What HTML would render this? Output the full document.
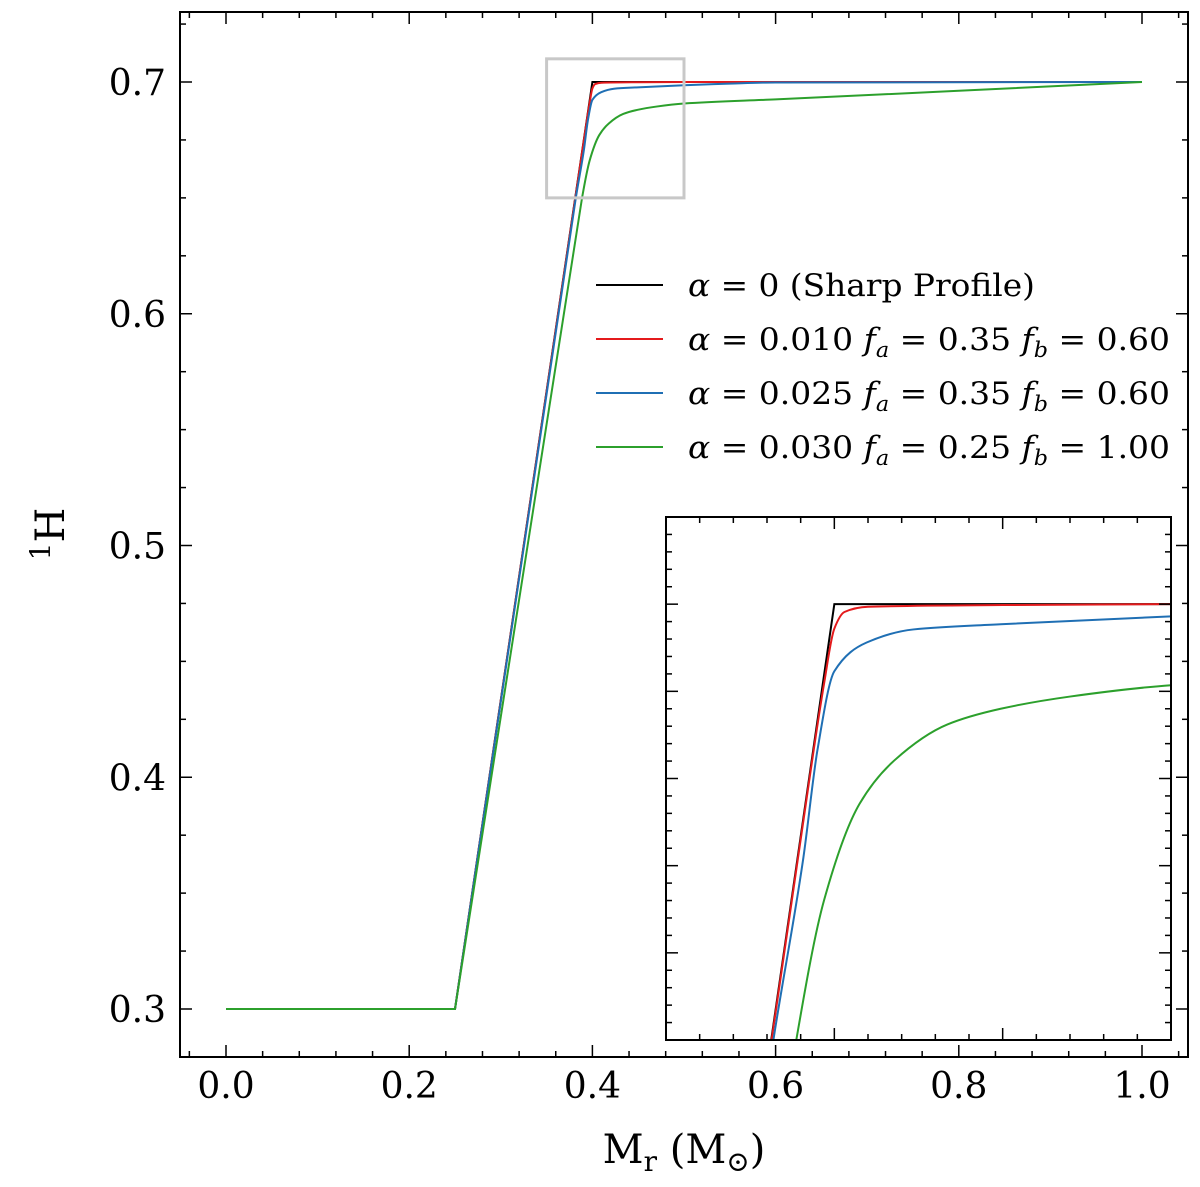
<!DOCTYPE html>
<html><head><meta charset="utf-8"><style>
html,body{margin:0;padding:0;background:#fff;overflow:hidden;width:1200px;height:1187px;}
svg{display:block;}
svg text{font-family:"DejaVu Serif","Liberation Serif",serif;}
</style></head><body>
<svg id="chart" xmlns="http://www.w3.org/2000/svg" width="1200" height="1187" viewBox="0 0 1200 1187">
<rect width="1200" height="1187" fill="#fff"/>
<g id="main"></g>
<g id="inset"></g>
<g id="legend"></g>
</svg>
<script>
// ---- data ----
const seriesNames = ["α = 0 (Sharp Profile)", "α = 0.010 fa = 0.35 fb = 0.60", "α = 0.025 fa = 0.35 fb = 0.60", "α = 0.030 fa = 0.25 fb = 1.00"];
const seriesColors = ["#000000", "#e41a1c", "#1f6fb4", "#2ca02c"];
const sharpX = [0, 0.25, 0.40, 1.0];
const sharpY = [0.30, 0.30, 0.70, 0.70];
const redX = [0, 0.25, 0.39, 0.397, 0.400, 0.403, 0.41, 0.45, 0.5, 1.0];
const redY = [0.30, 0.30, 0.673, 0.691, 0.6972, 0.6991, 0.6997, 0.6999, 0.7, 0.7];
const blueX = [0, 0.25, 0.3819, 0.3908, 0.395, 0.400, 0.4096, 0.4235, 0.4494, 0.5, 0.55, 0.6, 1.0];
const blueY = [0.30, 0.30, 0.650, 0.6709, 0.6833, 0.6923, 0.6956, 0.6971, 0.6977, 0.6986, 0.6993, 0.6998, 0.70];
const greenX = [0, 0.25, 0.3887, 0.397, 0.4075, 0.4179, 0.4336, 0.4494, 0.470, 0.5, 0.6, 0.8, 1.0];
const greenY = [0.30, 0.30, 0.650, 0.6661, 0.6771, 0.6821, 0.6862, 0.688, 0.6894, 0.6907, 0.6925, 0.6962, 0.70];
const xTicks = [0.0, 0.2, 0.4, 0.6, 0.8, 1.0];
const xTickLabels = ["0.0", "0.2", "0.4", "0.6", "0.8", "1.0"];
const yTicks = [0.3, 0.4, 0.5, 0.6, 0.7];
const yTickLabels = ["0.3", "0.4", "0.5", "0.6", "0.7"];

const NS = "http://www.w3.org/2000/svg";
function mk(parent, tag, attrs, text) {
  const e = document.createElementNS(NS, tag);
  for (const k in attrs) e.setAttribute(k, attrs[k]);
  if (text !== undefined) e.textContent = text;
  parent.appendChild(e);
  return e;
}
const allX = [sharpX, redX, blueX, greenX];
const allY = [sharpY, redY, blueY, greenY];

// path builder: linear for long segments, monotone cubic (Fritsch-Carlson) for short ones
function buildPath(xs, ys, fx, fy, smooth) {
  const P = xs.map((x, i) => [fx(x), fy(ys[i])]);
  let d = 'M' + P[0][0].toFixed(2) + ',' + P[0][1].toFixed(2);
  const n = P.length;
  const sl = []; for (let i = 0; i < n - 1; i++) sl.push((P[i+1][1] - P[i][1]) / (P[i+1][0] - P[i][0]));
  const m = new Array(n);
  m[0] = sl[0]; m[n-1] = sl[n-2];
  for (let i = 1; i < n - 1; i++) {
    if (sl[i-1] * sl[i] <= 0) m[i] = 0;
    else { const h0 = P[i][0]-P[i-1][0], h1 = P[i+1][0]-P[i][0]; const w1 = 2*h1+h0, w2 = h1+2*h0; m[i] = (w1+w2)/(w1/sl[i-1]+w2/sl[i]); }
  }
  for (let i = 0; i < n - 1; i++) {
    const longSeg = (xs[i+1] - xs[i]) > 0.1;
    if (!smooth || longSeg) { d += 'L' + P[i+1][0].toFixed(2) + ',' + P[i+1][1].toFixed(2); continue; }
    const h = P[i+1][0] - P[i][0];
    const m0 = (i > 0 && (xs[i] - xs[i-1]) > 0.1) ? sl[i-1] * 0.5 + sl[i] * 0.5 : m[i];
    const c1x = P[i][0] + h/3, c1y = P[i][1] + m0*h/3;
    const c2x = P[i+1][0] - h/3, c2y = P[i+1][1] - m[i+1]*h/3;
    d += 'C' + c1x.toFixed(2) + ',' + c1y.toFixed(2) + ' ' + c2x.toFixed(2) + ',' + c2y.toFixed(2) + ' ' + P[i+1][0].toFixed(2) + ',' + P[i+1][1].toFixed(2);
  }
  return d;
}

// main axes
const L = 180, R = 1188, T = 12, B = 1057;
const sx = v => 226 + (v - 0) * 916;
const sy = v => 1009 - (v - 0.3) * 2317.5;
const main = document.getElementById('main');
const mcp = mk(main, 'clipPath', {id: 'mclip'});
mk(mcp, 'rect', {x: L, y: T, width: R - L, height: B - T});

for (let i = 0; i < 4; i++) {
  const p = mk(main, 'path', {d: buildPath(allX[i], allY[i], sx, sy, i > 0), fill: 'none', stroke: seriesColors[i], 'stroke-width': 2, 'clip-path': 'url(#mclip)'});
  
  
}
// zoom box
const zb = mk(main, 'rect', {x: sx(0.35), y: sy(0.71), width: sx(0.5) - sx(0.35), height: sy(0.65) - sy(0.71), fill: 'none', stroke: '#c8c8c8', 'stroke-width': 3});



// ticks
for (let v = -0.04; v <= 1.05; v += 0.04) {
  const x = sx(v); if (x < L || x > R) continue;
  const major = xTicks.some(t => Math.abs(t - v) < 1e-6);
  const len = major ? 12 : 6;
  mk(main, 'line', {x1: x, x2: x, y1: B, y2: B - len, stroke: '#000', 'stroke-width': 1.5});
  mk(main, 'line', {x1: x, x2: x, y1: T, y2: T + len, stroke: '#000', 'stroke-width': 1.5});
}
for (let v = 0.275; v <= 0.73; v += 0.025) {
  const y = sy(v); if (y < T || y > B) continue;
  const major = yTicks.some(t => Math.abs(t - v) < 1e-6);
  const len = major ? 12 : 6;
  mk(main, 'line', {x1: L, x2: L + len, y1: y, y2: y, stroke: '#000', 'stroke-width': 1.5});
  mk(main, 'line', {x1: R, x2: R - len, y1: y, y2: y, stroke: '#000', 'stroke-width': 1.5});
}
xTicks.forEach((v, i) => {
  const t = mk(main, 'text', {x: sx(v), y: 1098, 'font-size': 36, 'text-anchor': 'middle', fill: '#000'}, xTickLabels[i]);
  
  
});
yTicks.forEach((v, i) => {
  const t = mk(main, 'text', {x: 166, y: sy(v) + 13, 'font-size': 36, 'text-anchor': 'end', fill: '#000'}, yTickLabels[i]);
  
  
});
const fr = mk(main, 'rect', {x: L, y: T, width: R - L, height: B - T, fill: 'none', stroke: '#000', 'stroke-width': 2});



const xl = mk(main, 'text', {x: 684, y: 1163, 'font-size': 40, 'text-anchor': 'middle', fill: '#000'});


xl.innerHTML = 'M<tspan font-size="28" dy="8">r</tspan><tspan dy="-8"> (M</tspan><tspan font-size="28" dy="8">⊙</tspan><tspan dy="-8">)</tspan>';
const yl = mk(main, 'text', {x: 0, y: 0, 'font-size': 40, 'text-anchor': 'middle', fill: '#000', transform: 'translate(64,534) rotate(-90)'});


yl.innerHTML = '<tspan font-size="28" dy="-14">1</tspan><tspan dy="14">H</tspan>';

// inset
const iL = 666, iR = 1171, iT = 517, iB = 1040;
const ix = v => iL + (v - 0.35) / 0.15 * (iR - iL);
const iy = v => iT + (0.71 - v) / 0.06 * (iB - iT);
const inset = document.getElementById('inset');
mk(inset, 'rect', {x: iL, y: iT, width: iR - iL, height: iB - iT, fill: '#fff'});
const cp = mk(inset, 'clipPath', {id: 'iclip'});
mk(cp, 'rect', {x: iL, y: iT, width: iR - iL, height: iB - iT});
for (let i = 0; i < 4; i++) {
  const p = mk(inset, 'path', {d: buildPath(allX[i], allY[i], ix, iy, i > 0), fill: 'none', stroke: seriesColors[i], 'stroke-width': 2, 'clip-path': 'url(#iclip)'});
  
  
}
for (let k = 1; k < 15; k++) {
  const v = 0.35 + k * 0.01, x = ix(v), len = (k % 5 === 0) ? 12 : 6;
  mk(inset, 'line', {x1: x, x2: x, y1: iB, y2: iB - len, stroke: '#000', 'stroke-width': 1.5});
  mk(inset, 'line', {x1: x, x2: x, y1: iT, y2: iT + len, stroke: '#000', 'stroke-width': 1.5});
}
for (let k = 1; k < 30; k++) {
  const v = 0.65 + k * 0.002, y = iy(v), len = (k % 5 === 0) ? 12 : 6;
  mk(inset, 'line', {x1: iL, x2: iL + len, y1: y, y2: y, stroke: '#000', 'stroke-width': 1.5});
  mk(inset, 'line', {x1: iR, x2: iR - len, y1: y, y2: y, stroke: '#000', 'stroke-width': 1.5});
}
const ifr = mk(inset, 'rect', {x: iL, y: iT, width: iR - iL, height: iB - iT, fill: 'none', stroke: '#000', 'stroke-width': 2});



// legend
const lg = document.getElementById('legend');
const rowsHTML = [
  '<tspan font-style="italic">α</tspan> = 0 (Sharp Profile)',
  '<tspan font-style="italic">α</tspan> = 0.010 <tspan font-style="italic">f</tspan><tspan font-style="italic" font-size="21" dy="7">a</tspan><tspan dy="-7"> = 0.35 </tspan><tspan font-style="italic">f</tspan><tspan font-style="italic" font-size="21" dy="7">b</tspan><tspan dy="-7"> = 0.60</tspan>',
  '<tspan font-style="italic">α</tspan> = 0.025 <tspan font-style="italic">f</tspan><tspan font-style="italic" font-size="21" dy="7">a</tspan><tspan dy="-7"> = 0.35 </tspan><tspan font-style="italic">f</tspan><tspan font-style="italic" font-size="21" dy="7">b</tspan><tspan dy="-7"> = 0.60</tspan>',
  '<tspan font-style="italic">α</tspan> = 0.030 <tspan font-style="italic">f</tspan><tspan font-style="italic" font-size="21" dy="7">a</tspan><tspan dy="-7"> = 0.25 </tspan><tspan font-style="italic">f</tspan><tspan font-style="italic" font-size="21" dy="7">b</tspan><tspan dy="-7"> = 1.00</tspan>'
];
seriesNames.forEach((n, i) => {
  const y = 285 + i * 54;
  const g = mk(lg, 'g', {});
  
  
  mk(g, 'line', {x1: 596, x2: 663, y1: y, y2: y, stroke: seriesColors[i], 'stroke-width': 2});
  const t = mk(g, 'text', {x: 688, y: y + 11, 'font-size': 31, fill: '#000', textLength: i === 0 ? 347 : 482, lengthAdjust: 'spacingAndGlyphs'});
  t.innerHTML = rowsHTML[i];
});
</script>
</body></html>
